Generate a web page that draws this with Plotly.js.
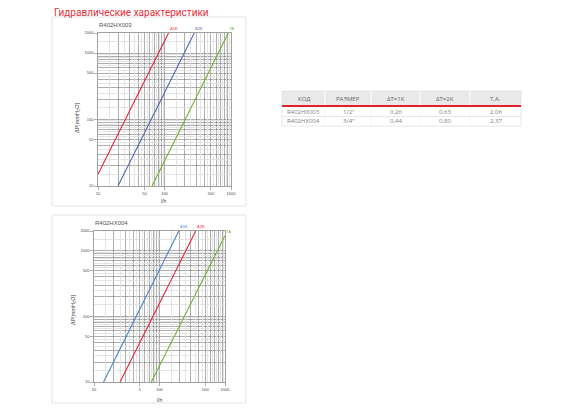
<!DOCTYPE html>
<html>
<head>
<meta charset="utf-8">
<script src="https://cdn.plot.ly/plotly-3.0.1.min.js"></script>
<style>
html,body{margin:0;padding:0;background:#fff;}
#chart{width:568px;height:408px;}
</style>
</head>
<body>
<div id="chart"></div>
<script>
// ---------- DATA ----------
// R402HX003 : flow (l/h) vs pressure drop (mmH2O), straight lines on log-log
const hx003_1K_flow = [10, 115];
const hx003_1K_dp   = [15, 2000];
const hx003_2K_flow = [20, 280];
const hx003_2K_dp   = [10, 2000];
const hx003_TA_flow = [65, 910];
const hx003_TA_dp   = [10, 2000];
// R402HX004
const hx004_1K_flow = [14, 197];
const hx004_1K_dp   = [10, 2000];
const hx004_2K_flow = [25, 357];
const hx004_2K_dp   = [10, 2000];
const hx004_TA_flow = [75, 1000];
const hx004_TA_dp   = [10, 1700];

const seriesLabels = ['Δ1K', 'Δ2K', 'TA'];

// tick labels
const xTickVals = [10, 50, 100, 500, 1000];
const xTickText1 = ['10', '50', '100', '500', '1000'];
const xTickText2 = ['10', '5', '100', '500', '1000'];
const yTickVals = [10, 50, 100, 500, 1000, 2000];
const yTickText = ['10', '50', '100', '500', '1000', '2000'];

// table
const tableHeader = ['КОД', 'РАЗМЕР', 'ΔT=1K', 'ΔT=2K', 'T.A.'];
const colCode = ['R402HX003', 'R402HX004'];
const colSize = ['1/2"', '3/4"'];
const colDT1 = ['0,26', '0,44'];
const colDT2 = ['0,63', '0,80'];
const colTA = ['2,06', '2,37'];

// ---------- helpers ----------
const W = 568, H = 408;
const px = v => v / W;
const py = v => 1 - v / H;

const decadeDigits = [1,2,3,4,5,6,7,8,9];
function gridVals(lo, hi, exclude) {
  const out = [];
  for (let d = lo; d <= hi; d *= 10) {
    decadeDigits.forEach(k => { const v = k * d; if (v >= lo && v <= hi && exclude.indexOf(v) < 0) out.push(v); });
  }
  return out;
}
function halfVals(lo, hi) {
  const out = [];
  for (let d = lo; d < hi; d *= 10) {
    decadeDigits.forEach(k => { const v = (k + 0.5) * d; if (v < hi) out.push(v); });
  }
  return out;
}
const xDark = gridVals(10, 1000, xTickVals);
const yDark = gridVals(10, 2000, yTickVals);
const xLight = halfVals(10, 1000);
const yLight = halfVals(10, 2000);

const RED = '#e62631', BLUE1 = '#5466ad', BLUE2 = '#4a82cf', GREEN = '#6cb52f';
const DARK = '#777777', LIGHT = '#dddddd';
const tickFont = {family: 'Liberation Sans, Arial, sans-serif', size: 4, color: '#444'};

function mainX(domain, ticktext, anchor) {
  return {type: 'log', domain: domain, range: [1, 3], anchor: anchor,
    tickmode: 'array', tickvals: xTickVals, ticktext: ticktext,
    ticks: 'outside', ticklen: 3, tickwidth: 0.6, tickcolor: DARK, tickfont: tickFont,
    showgrid: true, gridcolor: DARK, gridwidth: 0.6, zeroline: false,
    showline: true, mirror: true, linecolor: DARK, linewidth: 0.7,
    minor: {tickmode: 'array', tickvals: xDark, showgrid: true, gridcolor: DARK, gridwidth: 0.6, ticks: ''},
    fixedrange: true};
}
function mainY(domain, anchor) {
  return {type: 'log', domain: domain, range: [1, Math.log10(2000)], anchor: anchor,
    tickmode: 'array', tickvals: yTickVals, ticktext: yTickText,
    ticks: 'outside', ticklen: 3, tickwidth: 0.6, tickcolor: DARK, tickfont: tickFont,
    showgrid: true, gridcolor: DARK, gridwidth: 0.6, zeroline: false,
    showline: true, mirror: true, linecolor: DARK, linewidth: 0.7,
    minor: {tickmode: 'array', tickvals: yDark, showgrid: true, gridcolor: DARK, gridwidth: 0.6, ticks: ''},
    fixedrange: true};
}
function lightX(over, anchor) {
  return {type: 'log', overlaying: over, range: [1, 3], anchor: anchor,
    tickmode: 'array', tickvals: xLight, showticklabels: false, ticks: '',
    showgrid: true, gridcolor: LIGHT, gridwidth: 0.8, zeroline: false, showline: false, fixedrange: true};
}
function lightY(over, anchor) {
  return {type: 'log', overlaying: over, range: [1, Math.log10(2000)], anchor: anchor,
    tickmode: 'array', tickvals: yLight, showticklabels: false, ticks: '',
    showgrid: true, gridcolor: LIGHT, gridwidth: 0.8, zeroline: false, showline: false, fixedrange: true};
}

function line(x, y, color, xa, ya) {
  return {type: 'scatter', mode: 'lines', x: x, y: y, xaxis: xa, yaxis: ya,
    line: {color: color, width: 1.1}, hoverinfo: 'skip', showlegend: false};
}

const chart1 = [
  {f: hx003_1K_flow, p: hx003_1K_dp, c: RED},
  {f: hx003_2K_flow, p: hx003_2K_dp, c: BLUE1},
  {f: hx003_TA_flow, p: hx003_TA_dp, c: GREEN}
];
const chart2 = [
  {f: hx004_1K_flow, p: hx004_1K_dp, c: BLUE2},
  {f: hx004_2K_flow, p: hx004_2K_dp, c: RED},
  {f: hx004_TA_flow, p: hx004_TA_dp, c: GREEN}
];

const data = [];
chart1.forEach(s => data.push(line(s.f, s.p, s.c, 'x', 'y')));
chart2.forEach(s => data.push(line(s.f, s.p, s.c, 'x2', 'y2')));
data.push({type: 'scatter', x: [100], y: [100], xaxis: 'x3', yaxis: 'y3', mode: 'markers', marker: {opacity: 0}, hoverinfo: 'skip', showlegend: false});
data.push({type: 'scatter', x: [100], y: [100], xaxis: 'x4', yaxis: 'y4', mode: 'markers', marker: {opacity: 0}, hoverinfo: 'skip', showlegend: false});

const annotations = [];
const shapes = [];

function labelAnn(series, xa, ya, i) {
  const s = series[i];
  const n = s.f.length - 1;
  annotations.push({xref: xa, yref: ya, x: Math.log10(s.f[n]), y: Math.log10(s.p[n]),
    text: seriesLabels[i], showarrow: false, xanchor: 'left', yanchor: 'bottom', xshift: -1, yshift: 0,
    font: {family: 'Liberation Sans, Arial, sans-serif', size: 4, color: s.c}});
}
[0,1,2].forEach(i => labelAnn(chart1, 'x', 'y', i));
[0,1,2].forEach(i => labelAnn(chart2, 'x2', 'y2', i));

const paperText = (x, y, text, size, color, extra) => Object.assign({xref: 'paper', yref: 'paper', x: px(x), y: py(y),
  text: text, showarrow: false, font: {family: 'Liberation Sans, Arial, sans-serif', size: size, color: color}}, extra || {});

annotations.push(paperText(52, 12, 'Гидравлические характеристики', 10, '#e3303b', {xanchor: 'left', yanchor: 'middle', font: {family: 'Roboto, sans-serif', size: 10, color: '#e3303b'}}));
annotations.push(paperText(97, 25, 'R402HX003', 6, '#555', {xanchor: 'left', yanchor: 'middle'}));
annotations.push(paperText(93, 223, 'R402HX004', 6, '#555', {xanchor: 'left', yanchor: 'middle'}));
annotations.push(paperText(77, 118, 'ΔP[mmH<sub>2</sub>O]', 5.5, '#444', {textangle: -90, xanchor: 'center', yanchor: 'middle'}));
annotations.push(paperText(73, 310, 'ΔP[mmH<sub>2</sub>O]', 5.5, '#444', {textangle: -90, xanchor: 'center', yanchor: 'middle'}));
annotations.push(paperText(164, 201, 'l/h', 5, '#444', {xanchor: 'center', yanchor: 'middle'}));
annotations.push(paperText(160, 400, 'l/h', 5, '#444', {xanchor: 'center', yanchor: 'middle'}));

// panels
shapes.push({type: 'rect', xref: 'paper', yref: 'paper', x0: px(52), x1: px(246), y0: py(206), y1: py(17), line: {color: '#e3e3e3', width: 1}, layer: 'below'});
shapes.push({type: 'rect', xref: 'paper', yref: 'paper', x0: px(52), x1: px(246), y0: py(403), y1: py(215), line: {color: '#e3e3e3', width: 1}, layer: 'below'});

// ---------- table (shapes + text built from the arrays) ----------
const colEdges = [282, 325, 371, 420, 470, 521];
const tHeadTop = 91, tHeadBot = 106, rowH = 9.5;
const columns = [colCode, colSize, colDT1, colDT2, colTA];
const nRows = colCode.length;
const tBot = tHeadBot + rowH * nRows + 1;
const tFont = {family: 'Open Sans, sans-serif', size: 6};

shapes.push({type: 'rect', xref: 'paper', yref: 'paper', x0: px(colEdges[0]), x1: px(colEdges[5]), y0: py(tHeadBot), y1: py(tHeadTop),
  fillcolor: '#e9e9e9', line: {width: 0}, layer: 'below'});
shapes.push({type: 'rect', xref: 'paper', yref: 'paper', x0: px(colEdges[0]), x1: px(colEdges[5]), y0: py(tBot), y1: py(tHeadTop),
  fillcolor: 'rgba(0,0,0,0)', line: {color: '#e2e2e2', width: 0.8}, layer: 'below'});
for (let c = 1; c < colEdges.length - 1; c++) {
  shapes.push({type: 'line', xref: 'paper', yref: 'paper', x0: px(colEdges[c]), x1: px(colEdges[c]), y0: py(tHeadBot), y1: py(tHeadTop),
    line: {color: '#ffffff', width: 1}});
  shapes.push({type: 'line', xref: 'paper', yref: 'paper', x0: px(colEdges[c]), x1: px(colEdges[c]), y0: py(tBot), y1: py(tHeadBot),
    line: {color: '#f0f0f0', width: 0.6}});
}
for (let r = 1; r < nRows; r++) {
  const yy = tHeadBot + 1 + rowH * r;
  shapes.push({type: 'line', xref: 'paper', yref: 'paper', x0: px(colEdges[0]), x1: px(colEdges[5]), y0: py(yy), y1: py(yy),
    line: {color: '#e2e2e2', width: 0.8}});
}
shapes.push({type: 'line', xref: 'paper', yref: 'paper', x0: px(colEdges[0]), x1: px(colEdges[5]), y0: py(tHeadBot), y1: py(tHeadBot),
  line: {color: '#e3202c', width: 2}});

for (let c = 0; c < columns.length; c++) {
  const cx = (colEdges[c] + colEdges[c + 1]) / 2;
  annotations.push(paperText(cx, (tHeadTop + tHeadBot) / 2, tableHeader[c], 6, '#666',
    {xanchor: 'center', yanchor: 'middle', font: Object.assign({color: '#666'}, tFont)}));
  for (let r = 0; r < nRows; r++) {
    const cy = tHeadBot + 1 + rowH * r + rowH / 2;
    annotations.push(paperText(cx, cy, columns[c][r], 6, '#808080',
      {xanchor: 'center', yanchor: 'middle', font: Object.assign({color: '#808080'}, tFont)}));
  }
}

const layout = {
  width: W, height: H,
  margin: {l: 0, r: 0, t: 0, b: 0},
  paper_bgcolor: '#ffffff', plot_bgcolor: 'rgba(0,0,0,0)',
  showlegend: false,
  font: {family: 'Liberation Sans, Arial, sans-serif'},
  xaxis: mainX([px(98), px(231)], xTickText1, 'y'),
  yaxis: mainY([py(186), py(33)], 'x'),
  xaxis2: mainX([px(94), px(225)], xTickText2, 'y2'),
  yaxis2: mainY([py(382), py(231)], 'x2'),
  xaxis3: lightX('x', 'y3'),
  yaxis3: lightY('y', 'x3'),
  xaxis4: lightX('x2', 'y4'),
  yaxis4: lightY('y2', 'x4'),
  annotations: annotations,
  shapes: shapes
};

Plotly.newPlot('chart', data, layout, {displayModeBar: false, staticPlot: true});
</script>
</body>
</html>
